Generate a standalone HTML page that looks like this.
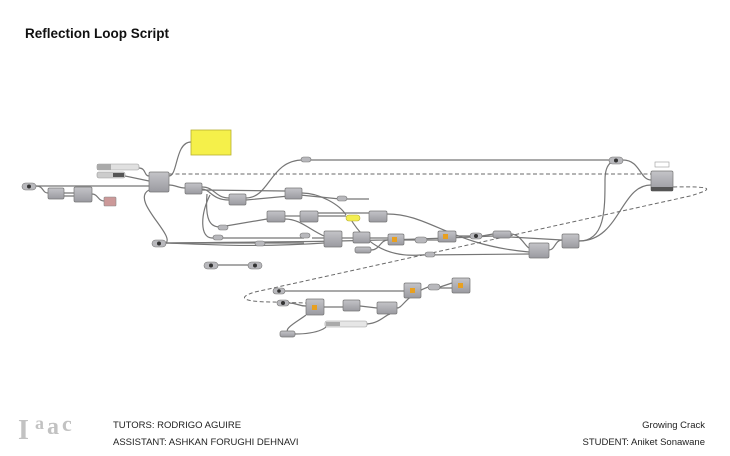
<!DOCTYPE html>
<html><head><meta charset="utf-8"><style>
html,body{margin:0;padding:0;background:#fff;width:730px;height:456px;overflow:hidden}
svg{display:block}
.t{font-family:"Liberation Sans",sans-serif}
</style></head><body>
<svg width="730" height="456" viewBox="0 0 730 456" xmlns="http://www.w3.org/2000/svg">
<defs>
<linearGradient id="g" x1="0" y1="0" x2="0" y2="1"><stop offset="0" stop-color="#c4c4c8"/><stop offset="1" stop-color="#9a9aa0"/></linearGradient>
</defs>
<text x="25" y="38" class="t" font-size="13.5" font-weight="bold" fill="#111">Reflection Loop Script</text>

<g fill="none" stroke="#767676" stroke-width="1.2">
<path d="M36,186 L149,186"/>
<path d="M36,186 C44,186 42,193 48,193"/>
<path d="M64,193 L74,193 M64,196 L74,196"/>
<path d="M92,194 C98,194 98,201 104,201"/>
<path d="M139,168 C146,168 144,176 149,176"/>
<path d="M125,176 L149,181"/>
<path d="M169,176 C178,176 175,142 191,142"/>
<path d="M169,185 C176,185 178,188 185,188"/>
<path d="M149,190 C130,200 175,235 166,243 L304,243"/>
<path d="M166,243 C200,244 250,248 324,243"/>
<path d="M202,187 C215,187 215,198 229,198 M202,189 C210,189 212,200 229,200"/>
<path d="M202,190 L285,191"/>
<path d="M246,198 C270,198 270,160 303,160 L609,160"/>
<path d="M246,200 L300,195 L340,199 L369,199"/>
<path d="M210,195 C200,215 200,238 212,238 L304,238"/>
<path d="M207,194 C205,220 210,227 220,227 L267,219"/>
<path d="M285,216 L300,216"/>
<path d="M318,216 L346,216 M318,213 L369,213"/>
<path d="M302,193 C320,193 340,205 346,215"/>
<path d="M285,219 C300,219 310,230 324,236 M312,238 L324,238"/>
<path d="M342,238 L353,238 M370,238 L388,238 M404,240 L415,240 M427,240 L438,240 M456,236 L470,236 M482,236 L493,234 M511,234 C520,234 525,246 529,248"/>
<path d="M371,250 C380,250 380,240 388,240"/>
<path d="M387,214 C430,214 450,245 529,252"/>
<path d="M350,218 C360,235 380,258 420,255 L529,254"/>
<path d="M549,250 C555,250 555,240 562,240"/>
<path d="M579,241 C605,241 605,210 605,180 C605,160 615,160 623,160"/>
<path d="M623,160 C640,160 640,180 651,180"/>
<path d="M579,241 C620,241 620,185 651,185"/>
<path d="M166,243 C200,242 350,243 493,236 L562,240"/>
<path d="M218,265 L248,265"/>
<path d="M285,291 L404,291"/>
<path d="M289,303 C297,303 298,306 306,306"/>
<path d="M324,307 L343,307 M360,306 L377,308"/>
<path d="M397,308 C403,308 405,296 428,287"/>
<path d="M421,290 L428,287 M440,287 L452,283 M440,288 L452,288"/>
<path d="M367,324 C380,323 385,315 390,314"/>
<path d="M295,334 C320,334 330,326 325,325"/>
<path d="M290,333 C280,330 300,320 306,315"/>
</g>
<g fill="none" stroke="#6a6a6a" stroke-width="1" stroke-dasharray="4,2.5">
<path d="M169,174 L651,174"/>
<path d="M673,187 C720,186 710,190 690,196 L255,292 C235,298 245,302 273,302 L306,303"/>
</g>

<rect x="191" y="130" width="40" height="25" fill="#f5f04a" stroke="#b8b030" stroke-width="0.8"/>
<rect x="97" y="164" width="42" height="6" rx="2" fill="#e0e0e0" stroke="#999" stroke-width="0.6"/>
<rect x="97" y="164" width="14" height="6" fill="#aaa"/>
<rect x="97" y="172" width="28" height="6" rx="2" fill="#ccc" stroke="#999" stroke-width="0.6"/>
<rect x="113" y="173" width="11" height="4" fill="#555"/>
<rect x="325" y="321" width="42" height="6" rx="2" fill="#e6e6e6" stroke="#999" stroke-width="0.6"/>
<rect x="326" y="322" width="14" height="4" fill="#aaa"/>

<g fill="url(#g)" stroke="#777" stroke-width="0.7">
<rect x="149" y="172" width="20" height="20" rx="1.5"/>
<rect x="48" y="188" width="16" height="11" rx="1.5"/>
<rect x="74" y="187" width="18" height="15" rx="1.5"/>
<rect x="185" y="183" width="17" height="11" rx="1.5"/>
<rect x="229" y="194" width="17" height="11" rx="1.5"/>
<rect x="285" y="188" width="17" height="11" rx="1.5"/>
<rect x="267" y="211" width="18" height="11" rx="1.5"/>
<rect x="300" y="211" width="18" height="11" rx="1.5"/>
<rect x="369" y="211" width="18" height="11" rx="1.5"/>
<rect x="324" y="231" width="18" height="16" rx="1.5"/>
<rect x="353" y="232" width="17" height="11" rx="1.5"/>
<rect x="388" y="234" width="16" height="11" rx="1.5"/>
<rect x="438" y="231" width="18" height="11" rx="1.5"/>
<rect x="493" y="231" width="18" height="7" rx="2"/>
<rect x="529" y="243" width="20" height="15" rx="1.5"/>
<rect x="562" y="234" width="17" height="14" rx="1.5"/>
<rect x="651" y="171" width="22" height="20" rx="1.5"/>
<rect x="306" y="299" width="18" height="16" rx="1.5"/>
<rect x="343" y="300" width="17" height="11" rx="1.5"/>
<rect x="377" y="302" width="20" height="12" rx="1.5"/>
<rect x="404" y="283" width="17" height="15" rx="1.5"/>
<rect x="452" y="278" width="18" height="15" rx="1.5"/>
<rect x="355" y="247" width="16" height="6" rx="2"/>
<rect x="280" y="331" width="15" height="6" rx="2"/>
</g>
<rect x="651" y="187" width="22" height="4" fill="#555"/>
<rect x="104" y="197" width="12" height="9" rx="1" fill="#c99" stroke="#888" stroke-width="0.6"/>
<rect x="655" y="162" width="14" height="5" fill="#fff" stroke="#999" stroke-width="0.6"/>
<rect x="346" y="215" width="14" height="6" rx="3" fill="#f3ee50" stroke="#b8b030" stroke-width="0.6"/>
<g fill="#e8a020">
<rect x="392" y="237" width="5" height="5"/><rect x="443" y="234" width="5" height="5"/>
<rect x="312" y="305" width="5" height="5"/><rect x="410" y="288" width="5" height="5"/><rect x="458" y="283" width="5" height="5"/>
</g>
<g fill="#b8b8bc" stroke="#777" stroke-width="0.6">
<rect x="22" y="183" width="14" height="7" rx="3.5"/>
<rect x="152" y="240" width="14" height="7" rx="3.5"/>
<rect x="204" y="262" width="14" height="7" rx="3.5"/>
<rect x="248" y="262" width="14" height="7" rx="3.5"/>
<rect x="609" y="157" width="14" height="7" rx="3.5"/>
<rect x="415" y="237" width="12" height="6" rx="3"/>
<rect x="470" y="233" width="12" height="6" rx="3"/>
<rect x="273" y="288" width="12" height="6" rx="3"/>
<rect x="277" y="300" width="12" height="6" rx="3"/>
<rect x="428" y="284" width="12" height="6" rx="3"/>
<rect x="301" y="157" width="10" height="5" rx="2.5"/>
<rect x="213" y="235" width="10" height="5" rx="2.5"/>
<rect x="218" y="225" width="10" height="5" rx="2.5"/>
<rect x="300" y="233" width="10" height="5" rx="2.5"/>
<rect x="255" y="241" width="10" height="5" rx="2.5"/>
<rect x="425" y="252" width="10" height="5" rx="2.5"/>
<rect x="337" y="196" width="10" height="5" rx="2.5"/>
</g>
<g fill="#333">
<circle cx="29" cy="186.5" r="2"/><circle cx="159" cy="243.5" r="2"/><circle cx="211" cy="265.5" r="2"/><circle cx="255" cy="265.5" r="2"/><circle cx="616" cy="160.5" r="2"/><circle cx="476" cy="236" r="2"/><circle cx="283" cy="303" r="2"/><circle cx="279" cy="291" r="1.8"/>
</g>

<g font-family="Liberation Serif,serif" font-weight="bold" fill="#c2c2c2">
<text x="18" y="439" font-size="28">I</text>
<text x="35" y="429" font-size="18">a</text>
<text x="47" y="434" font-size="24">a</text>
<text x="62" y="431" font-size="22">c</text>
</g>
<text x="113" y="428" class="t" font-size="9.5" fill="#222">TUTORS: RODRIGO AGUIRE</text>
<text x="113" y="445" class="t" font-size="9.5" fill="#222">ASSISTANT: ASHKAN FORUGHI DEHNAVI</text>
<text x="705" y="428" class="t" font-size="9.5" fill="#222" text-anchor="end">Growing Crack</text>
<text x="705" y="445" class="t" font-size="9.5" fill="#222" text-anchor="end">STUDENT: Aniket Sonawane</text>
</svg>
</body></html>
